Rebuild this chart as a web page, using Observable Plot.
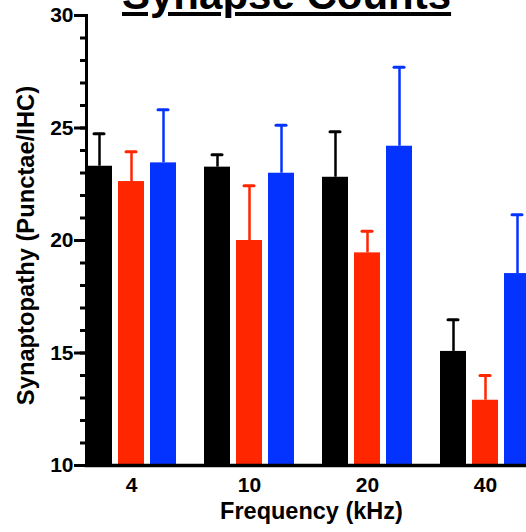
<!DOCTYPE html>
<html>
<head>
<meta charset="utf-8">
<script src="https://cdn.jsdelivr.net/npm/d3@7"></script>
<script src="https://cdn.jsdelivr.net/npm/@observablehq/plot@0.6"></script>
<style>
  html, body { margin: 0; padding: 0; background: #fff; overflow: hidden; }
  #wrap { position: relative; width: 526px; height: 532px; overflow: hidden; }
  #wrap svg { max-width: none !important; }
  #title {
    position: absolute; left: 122px; top: -26.5px; margin: 0; z-index: 2;
    font-family: "Liberation Sans", Arial, sans-serif; font-weight: bold;
    font-size: 42px; line-height: 1; text-decoration: underline; white-space: nowrap; color: #000;
  }
</style>
</head>
<body>
<div id="wrap"><div id="title"></div></div>
<script>
const titleText = "Synapse Counts";
const frequencies = ["4", "10", "20", "40"];
const seriesNames = ["Group 1", "Group 2", "Group 3"];
const seriesColors = ["#000000", "#FF2600", "#0433FF"];
const meanGroup1 = [23.30, 23.26, 22.81, 15.07];
const semGroup1  = [1.44, 0.55, 2.02, 1.41];
const meanGroup2 = [22.62, 20.00, 19.45, 12.90];
const semGroup2  = [1.32, 2.43, 0.96, 1.10];
const meanGroup3 = [23.45, 22.99, 24.19, 18.53];
const semGroup3  = [2.36, 2.13, 3.51, 2.61];
const yDomain = [10, 30];
const yMajorTicks = [10, 15, 20, 25, 30];
const yMinorTicks = d3.range(10, 31);
const xLabel = "Frequency (kHz)";
const yLabel = "Synaptopathy (Punctae/IHC)";

const means = [meanGroup1, meanGroup2, meanGroup3];
const sems = [semGroup1, semGroup2, semGroup3];
const rows = frequencies.flatMap((f, i) =>
  seriesNames.map((s, j) => ({freq: f, series: s, mean: means[j][i], sem: sems[j][i]}))
);

document.getElementById("title").textContent = titleText;

const bold = {fontWeight: "bold"};
const chart = Plot.plot({
  width: 533,
  height: 532,
  marginTop: 15,
  marginBottom: 67,
  marginLeft: 82,
  marginRight: 0,
  style: {fontFamily: "'Liberation Sans', Arial, sans-serif", color: "#000", background: "#fff", maxWidth: "none"},
  fx: {domain: frequencies, paddingInner: 0.2373, paddingOuter: 0.0254, axis: null},
  x: {domain: seriesNames, paddingInner: 0.1875, paddingOuter: 0, axis: null},
  y: {domain: yDomain, axis: null},
  color: {domain: seriesNames, range: seriesColors},
  marks: [
    Plot.barY(rows, {fx: "freq", x: "series", y1: yDomain[0], y2: "mean", fill: "series"}),
    Plot.ruleX(rows, {fx: "freq", x: "series", y1: "mean", y2: d => d.mean + d.sem, stroke: "series", strokeWidth: 2.5}),
    Plot.tickY(rows, {fx: "freq", x: "series", y: d => d.mean + d.sem, stroke: "series", strokeWidth: 3, inset: 8, strokeLinecap: "round"}),
    Plot.axisY({ticks: yMinorTicks, tickSize: 6, tickFormat: () => "", strokeWidth: 3, label: null}),
    Plot.axisY({ticks: yMajorTicks, tickSize: 12, tickPadding: 1, fontSize: 21, ...bold, strokeWidth: 3, label: null}),
    Plot.axisFx({anchor: "bottom", tickSize: 0, tickPadding: 12, fontSize: 21, ...bold, label: null}),
    Plot.frame({anchor: "left", facet: "super", strokeWidth: 3}),
    Plot.frame({anchor: "bottom", facet: "super", strokeWidth: 3.5}),
    Plot.text([xLabel], {text: d => d, frameAnchor: "bottom", facet: "super", textAnchor: "middle", lineAnchor: "bottom", dy: 53, dx: 3, fontSize: 23.5, ...bold}),
    Plot.text([yLabel], {text: d => d, frameAnchor: "left", facet: "super", rotate: -90, textAnchor: "middle", lineAnchor: "top", dx: -69, dy: 5, fontSize: 23.75, ...bold})
  ]
});
document.getElementById("wrap").appendChild(chart);
</script>
</body>
</html>
